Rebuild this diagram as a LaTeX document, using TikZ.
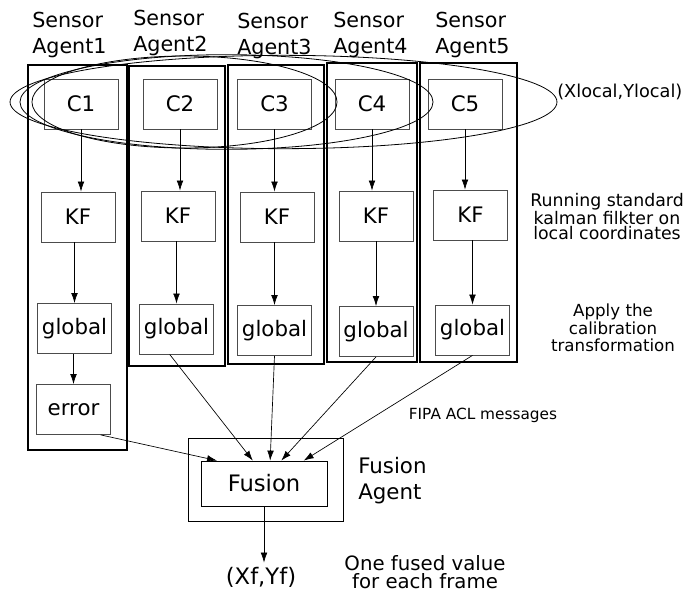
\documentclass[tikz,border=0pt]{standalone}
\usepackage{fontspec}
\setmainfont{DejaVu Sans}
\usetikzlibrary{arrows.meta}

\begin{document}
\begin{tikzpicture}[x=0.75pt,y=-0.75pt]
\tikzset{box/.style={draw=black!70, line width=0.6pt, minimum width=55.5pt, minimum height=37.5pt, inner sep=1pt, font=\fontsize{16}{19}\selectfont}}
\tikzset{agentbox/.style={draw, line width=1.7pt, inner sep=0pt}}
\tikzset{agentname/.style={anchor=north west, inner sep=0pt, align=left, font=\fontsize{15.5}{19.5}\selectfont}}
\tikzset{note/.style={inner sep=0pt, align=center}}
\tikzset{EdgeStyle/.style={-{Latex[length=7.5pt,width=5pt]}, line width=0.5pt}}
\useasboundingbox (0,0) rectangle (691,597);

% sensor agents
\node[agentbox, minimum width=74.25pt, minimum height=288.75pt] (a1) at (77.5,257.5) {};
\node[agentbox, minimum width=72pt, minimum height=225pt] (a2) at (177,216) {};
\node[agentbox, minimum width=72pt, minimum height=224.25pt] (a3) at (276,214.5) {};
\node[agentbox, minimum width=67.5pt, minimum height=224.25pt] (a4) at (372,212.5) {};
\node[agentbox, minimum width=72.75pt, minimum height=224.25pt] (a5) at (468.5,212.5) {};

\node[agentname] (n1) at (32,12) {Sensor\\Agent1};
\node[agentname] (n2) at (133,10) {Sensor\\Agent2};
\node[agentname] (n3) at (237,13) {Sensor\\Agent3};
\node[agentname] (n4) at (333,12) {Sensor\\Agent4};
\node[agentname] (n5) at (435,12) {Sensor\\Agent5};

% local coordinates
\node[box] (c1) at (81,104) {C1};
\node[box] (c2) at (180,104) {C2};
\node[box] (c3) at (274.5,104) {C3};
\node[box] (c4) at (372,104) {C4};
\node[box] (c5) at (465,104) {C5};

% kalman filters
\node[box] (kf1) at (78,217) {KF};
\node[box] (kf2) at (178,216) {KF};
\node[box] (kf3) at (277,217) {KF};
\node[box] (kf4) at (376,216) {KF};
\node[box] (kf5) at (470.5,215) {KF};

% global coordinates
\node[box] (g1) at (74.5,328.5) {global};
\node[box] (g2) at (176.5,329) {global};
\node[box] (g3) at (274.5,330.5) {global};
\node[box] (g4) at (376,331.5) {global};
\node[box] (g5) at (472.5,330) {global};
\node[box] (err) at (73.5,409.5) {error};

% groups of neighbours
\draw[line width=0.6pt] (184.5,102) ellipse [x radius=114.4pt, y radius=34.5pt];
\draw[line width=0.6pt] (226.5,102) ellipse [x radius=154.9pt, y radius=35.5pt];
\draw[line width=0.6pt] (283.5,102) ellipse [x radius=205.1pt, y radius=35pt];
\node[note, anchor=base west, font=\fontsize{13.3}{16}\selectfont] (loc) at (557,97) {(Xlocal,Ylocal)};

% fusion agent
\node[draw, line width=0.6pt, minimum width=116.25pt, minimum height=62.25pt] (fagent) at (265.5,479.5) {};
\node[draw, line width=0.6pt, minimum width=94.5pt, minimum height=33.75pt, font=\fontsize{17}{20}\selectfont] (fus) at (264,483.5) {Fusion};
\node[agentname, font=\fontsize{16}{19.5}\selectfont] (fname) at (358,457) {Fusion\\Agent};
\node[inner sep=3pt, font=\fontsize{17}{20}\selectfont] (xf) at (261,577) {(Xf,Yf)};

% notes
\node[note, anchor=north, font=\fontsize{13}{11.5}\selectfont] (t1) at (607,193) {Running standard\\kalman filkter on\\local coordinates};
\node[note, anchor=north, font=\fontsize{12.5}{12.8}\selectfont] (t2) at (613,304) {Apply the\\calibration\\transformation};
\node[note, anchor=base, font=\fontsize{11.5}{14}\selectfont] (t3) at (483,419) {FIPA ACL messages};
\node[note, anchor=north, font=\fontsize{14.8}{13.5}\selectfont] (t4) at (425,555) {One fused value\\for each frame};

% edges
\draw[EdgeStyle] (c1.south) -- (c1.south |- kf1.north);
\draw[EdgeStyle] (c2.south) -- (c2.south |- kf2.north);
\draw[EdgeStyle] (c3.south) -- (c3.south |- kf3.north);
\draw[EdgeStyle] (c4.south) -- (c4.south |- kf4.north);
\draw[EdgeStyle] (c5.south) -- (c5.south |- kf5.north);
\draw[EdgeStyle] (kf1.south -| g1) -- (g1.north);
\draw[EdgeStyle] (kf2.south -| g2) -- (g2.north);
\draw[EdgeStyle] (kf3.south -| g3) -- (g3.north);
\draw[EdgeStyle] (kf4.south -| g4) -- (g4.north);
\draw[EdgeStyle] (kf5.south -| g5) -- (g5.north);
\draw[EdgeStyle] (g1.south -| err) -- (err.north);
\draw[EdgeStyle] (err.-43) -- (fus.154);
\draw[EdgeStyle] (g2.-105) -- (fus.116);
\draw[EdgeStyle] (g3.south) -- (fus.75);
\draw[EdgeStyle] (g4.south) -- (fus.53);
\draw[EdgeStyle] (g5.south) -- (fus.30);
\draw[EdgeStyle] (fus.south) -- (fus.south |- xf.north);
\end{tikzpicture}
\end{document}
